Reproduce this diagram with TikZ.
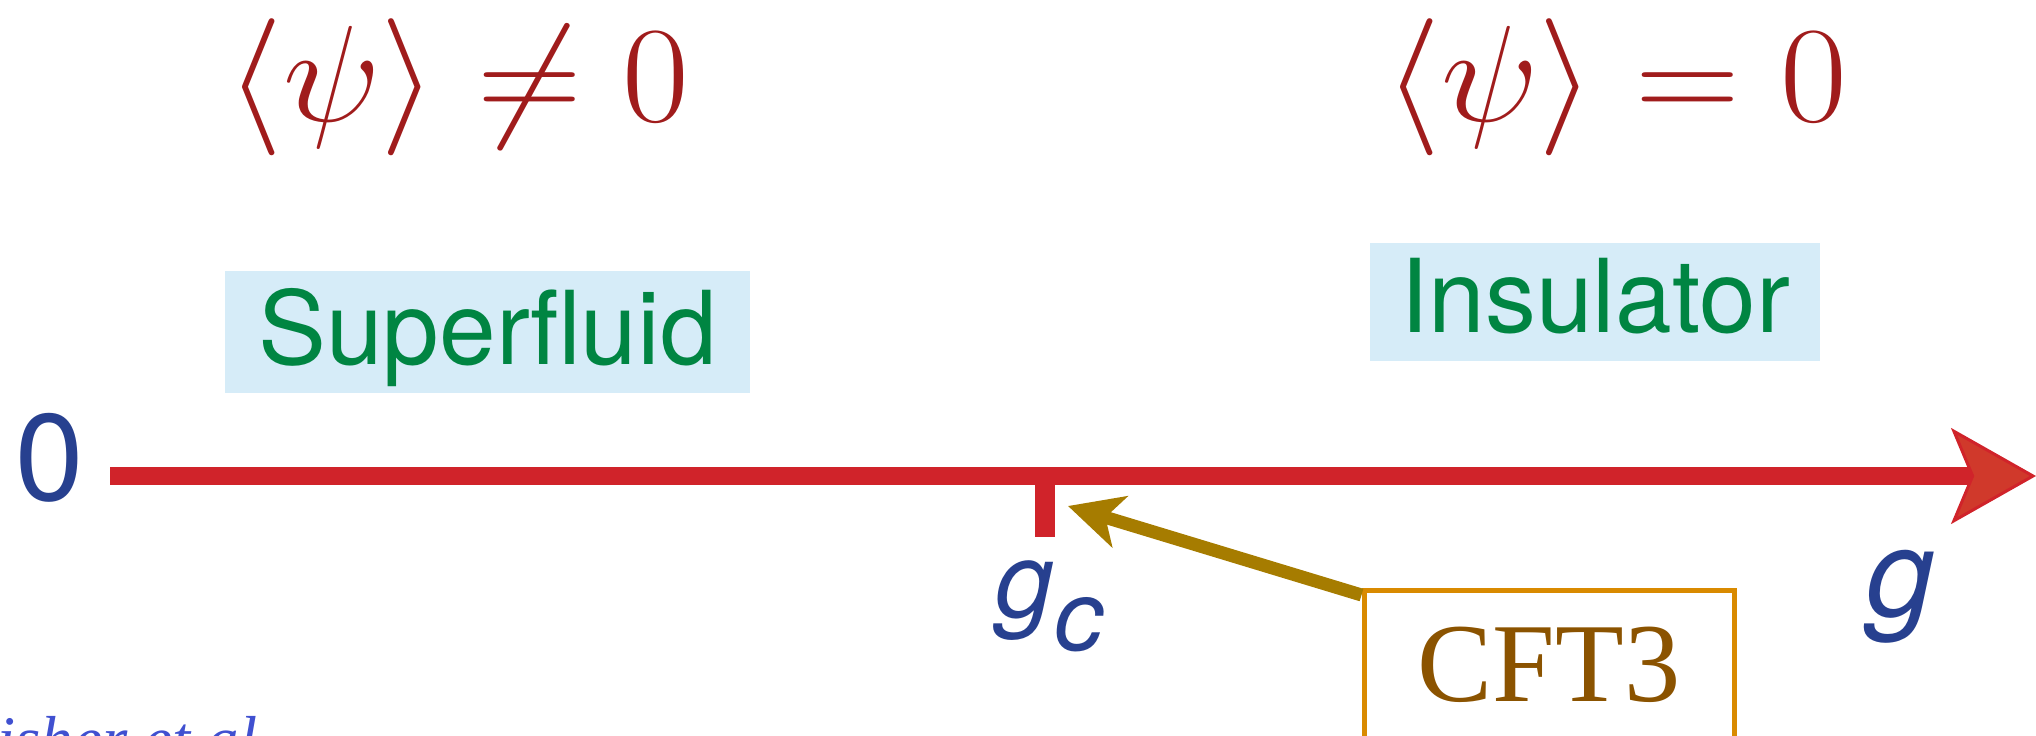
\RequirePackage{fix-cm}
\documentclass[tikz,border=0pt]{standalone}
\usepackage{amsmath,amssymb}
\usepackage{graphicx}
\usepackage{fontspec}
\setsansfont{TeX Gyre Heros}
\newfontfamily\cftfont{Liberation Serif}
\usepackage{xcolor}
\usepackage{tikz}
\usetikzlibrary{arrows.meta,positioning,calc}

\definecolor{axred}{RGB}{208,35,42}
\definecolor{tipred}{RGB}{208,57,43}
\definecolor{lblblue}{RGB}{39,64,143}
\definecolor{mathred}{RGB}{160,28,28}
\definecolor{phgreen}{RGB}{0,133,66}
\definecolor{phfill}{RGB}{214,236,248}
\definecolor{cftarrow}{RGB}{166,124,0}
\definecolor{cftframe}{RGB}{217,138,0}
\definecolor{cfttext}{RGB}{139,83,0}
\definecolor{refblue}{RGB}{64,80,208}

\begin{document}
\begin{tikzpicture}[x=1cm, y=1cm]
  \tikzset{phase/.style={fill=phfill, text=phgreen, font=\sffamily\fontsize{29}{30}\selectfont, inner sep=0pt},
    order/.style={text=mathred, font=\fontsize{39}{41}\selectfont, inner sep=0pt},
    lbl/.style={text=lblblue, inner sep=0pt},
    cftbox/.style={draw=cftframe, line width=0.05cm, text=cfttext, font=\cftfont\fontsize{32}{33}\selectfont,
      minimum width=3.70cm, inner ysep=0.37cm, text depth=1cm}}
  \useasboundingbox (0,0) rectangle (20.36,7.35);
  % order parameter and phase on each side
  \node[order] (opL) at (4.58,6.475) {\scalebox{1.06}[1]{$\langle\psi\rangle\neq0$}};
  \node[order] (opR) at (16.16,6.475) {\scalebox{1.06}[1]{$\langle\psi\rangle=0$}};
  \node[phase, minimum width=5.25cm, text height=0.93cm, text depth=0.29cm] (sf) at (4.875,4.03) {Superfluid};
  \node[phase, minimum width=4.50cm, text height=0.89cm, text depth=0.29cm] (ins) at (15.95,4.33) {Insulator};
  % coupling axis with the critical point
  \node[lbl, font=\sffamily\fontsize{35}{36}\selectfont] (zero) at (0.495,2.775) {0};
  \coordinate (axStart) at (1.10,2.59);
  \coordinate (axEnd) at (20.36,2.59);
  \coordinate (gcPt) at (10.45,2.59);
  \draw[axred, line width=0.18cm, -{Stealth[length=0.85cm, width=0.96cm, inset=0.2cm, fill=tipred, line width=0.03cm]}] (axStart) -- (axEnd);
  \draw[axred, line width=0.20cm] (gcPt) -- ++(0,-0.61);
  \node[lbl, anchor=base west, font=\sffamily\itshape\fontsize{30}{31}\selectfont] (gc) at (9.95,1.18) {g\raisebox{-0.33cm}{\fontsize{28}{29}\selectfont c}};
  \node[lbl, anchor=base west, font=\sffamily\itshape\fontsize{35}{36}\selectfont] (g) at (18.66,1.19) {g};
  % the fixed point
  \node[cftbox, anchor=north] (cft) at (15.49,1.47) {CFT3};
  \coordinate (gcArr) at (10.68,2.29);
  \draw[cftarrow, line width=0.13cm, -{Stealth[length=0.54cm, width=0.53cm, inset=0.15cm]}] ([yshift=-0.07cm]cft.north west) -- (gcArr);
  \node[text=refblue, font=\cftfont\itshape\fontsize{18.5}{19}\selectfont, anchor=base west, inner sep=0pt] (ref) at (-0.43,-0.26) {Fisher et al.};
\end{tikzpicture}
\end{document}
